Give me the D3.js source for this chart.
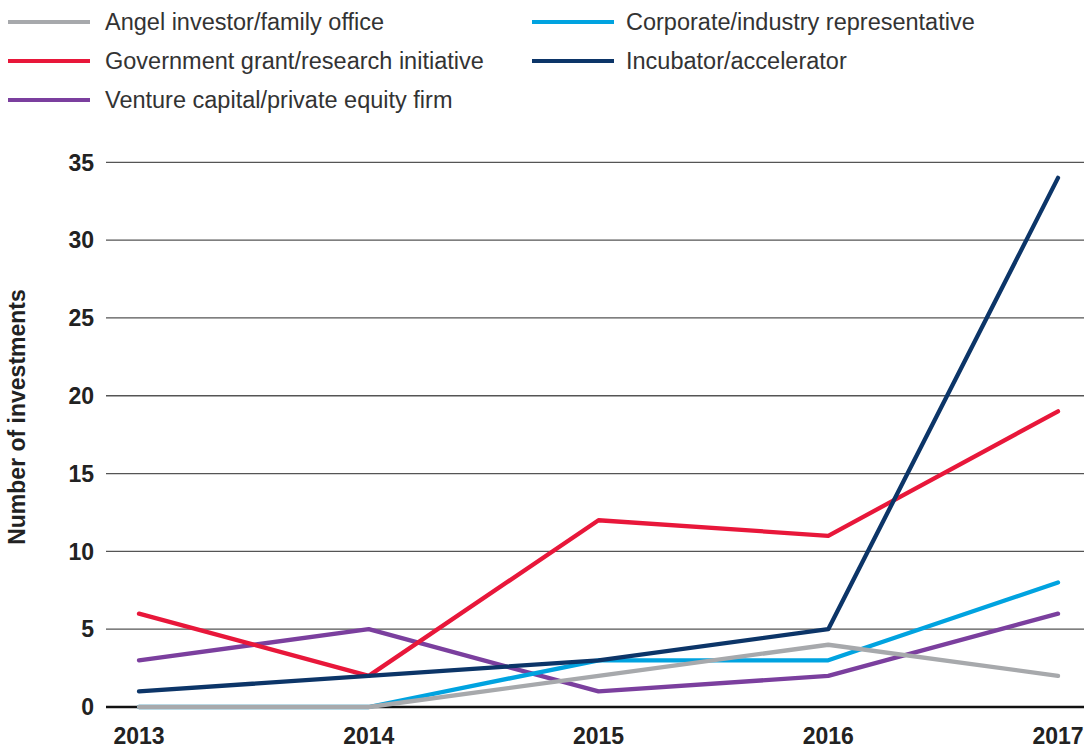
<!DOCTYPE html>
<html><head><meta charset="utf-8">
<script src="https://cdn.jsdelivr.net/npm/d3@7"></script>
<style>body{margin:0;background:#fff}svg{display:block}</style>
</head><body><svg id="c" width="1084" height="749"></svg>
<script>
const years = ["2013","2014","2015","2016","2017"];
const yTicks = [0,5,10,15,20,25,30,35];
const angel = [0,0,2,4,2];
const corporate = [0,0,3,3,8];
const government = [6,2,12,11,19];
const incubator = [1,2,3,5,34];
const venture = [3,5,1,2,6];

const series = [
  {name:"Angel investor/family office", values:angel, color:"#a7a9ac"},
  {name:"Corporate/industry representative", values:corporate, color:"#00a3e0"},
  {name:"Government grant/research initiative", values:government, color:"#e8173a"},
  {name:"Incubator/accelerator", values:incubator, color:"#0c3568"},
  {name:"Venture capital/private equity firm", values:venture, color:"#7b3f9e"}
];
const drawOrder = [4,2,1,0,3];

const svg = d3.select("#c");
const x = d3.scalePoint().domain(years).range([139,1058]);
const y = d3.scaleLinear().domain([0,35]).range([707,162.3]);

// grid
svg.append("g").selectAll("line").data(yTicks).join("line")
  .attr("x1",106).attr("x2",1084)
  .attr("y1",d=>y(d)).attr("y2",d=>y(d))
  .attr("stroke",d=>d===0?"#111":"#555")
  .attr("stroke-width",d=>d===0?2.5:1.3);

// y tick labels
svg.append("g").selectAll("text").data(yTicks).join("text")
  .attr("x",94).attr("y",d=>y(d)).attr("dy","0.36em")
  .attr("text-anchor","end")
  .attr("font-family","Liberation Sans, Arial, sans-serif")
  .attr("font-weight","bold").attr("font-size",23).attr("fill","#222")
  .text(d=>d);

// x labels
svg.append("g").selectAll("text").data(years).join("text")
  .attr("x",d=>x(d)).attr("y",744)
  .attr("text-anchor","middle")
  .attr("font-family","Liberation Sans, Arial, sans-serif")
  .attr("font-weight","bold").attr("font-size",23).attr("fill","#222")
  .text(d=>d);

// y title
svg.append("text")
  .attr("transform","translate(25,417) rotate(-90)")
  .attr("text-anchor","middle")
  .attr("font-family","Liberation Sans, Arial, sans-serif")
  .attr("font-weight","bold").attr("font-size",23).attr("fill","#222")
  .text("Number of investments");

// lines
const line = d3.line().x((d,i)=>x(years[i])).y(d=>y(d));
svg.append("g").selectAll("path").data(drawOrder.map(i=>series[i])).join("path")
  .attr("d",d=>line(d.values))
  .attr("fill","none").attr("stroke",d=>d.color)
  .attr("stroke-width",4.3).attr("stroke-linecap","round").attr("stroke-linejoin","round");

// legend
const legendPos = [
  {lx:8,  tx:105, ty:22},
  {lx:532,tx:626, ty:22},
  {lx:8,  tx:105, ty:61},
  {lx:532,tx:626, ty:61},
  {lx:8,  tx:105, ty:100}
];
const lg = svg.append("g").selectAll("g").data(series).join("g");
lg.append("line")
  .attr("x1",(d,i)=>legendPos[i].lx).attr("x2",(d,i)=>legendPos[i].lx+82)
  .attr("y1",(d,i)=>legendPos[i].ty).attr("y2",(d,i)=>legendPos[i].ty)
  .attr("stroke",d=>d.color).attr("stroke-width",4);
lg.append("text")
  .attr("x",(d,i)=>legendPos[i].tx).attr("y",(d,i)=>legendPos[i].ty).attr("dy","0.35em")
  .attr("font-family","Liberation Sans, Arial, sans-serif")
  .attr("font-size",23.5).attr("fill","#333")
  .text(d=>d.name);
</script></body></html>
